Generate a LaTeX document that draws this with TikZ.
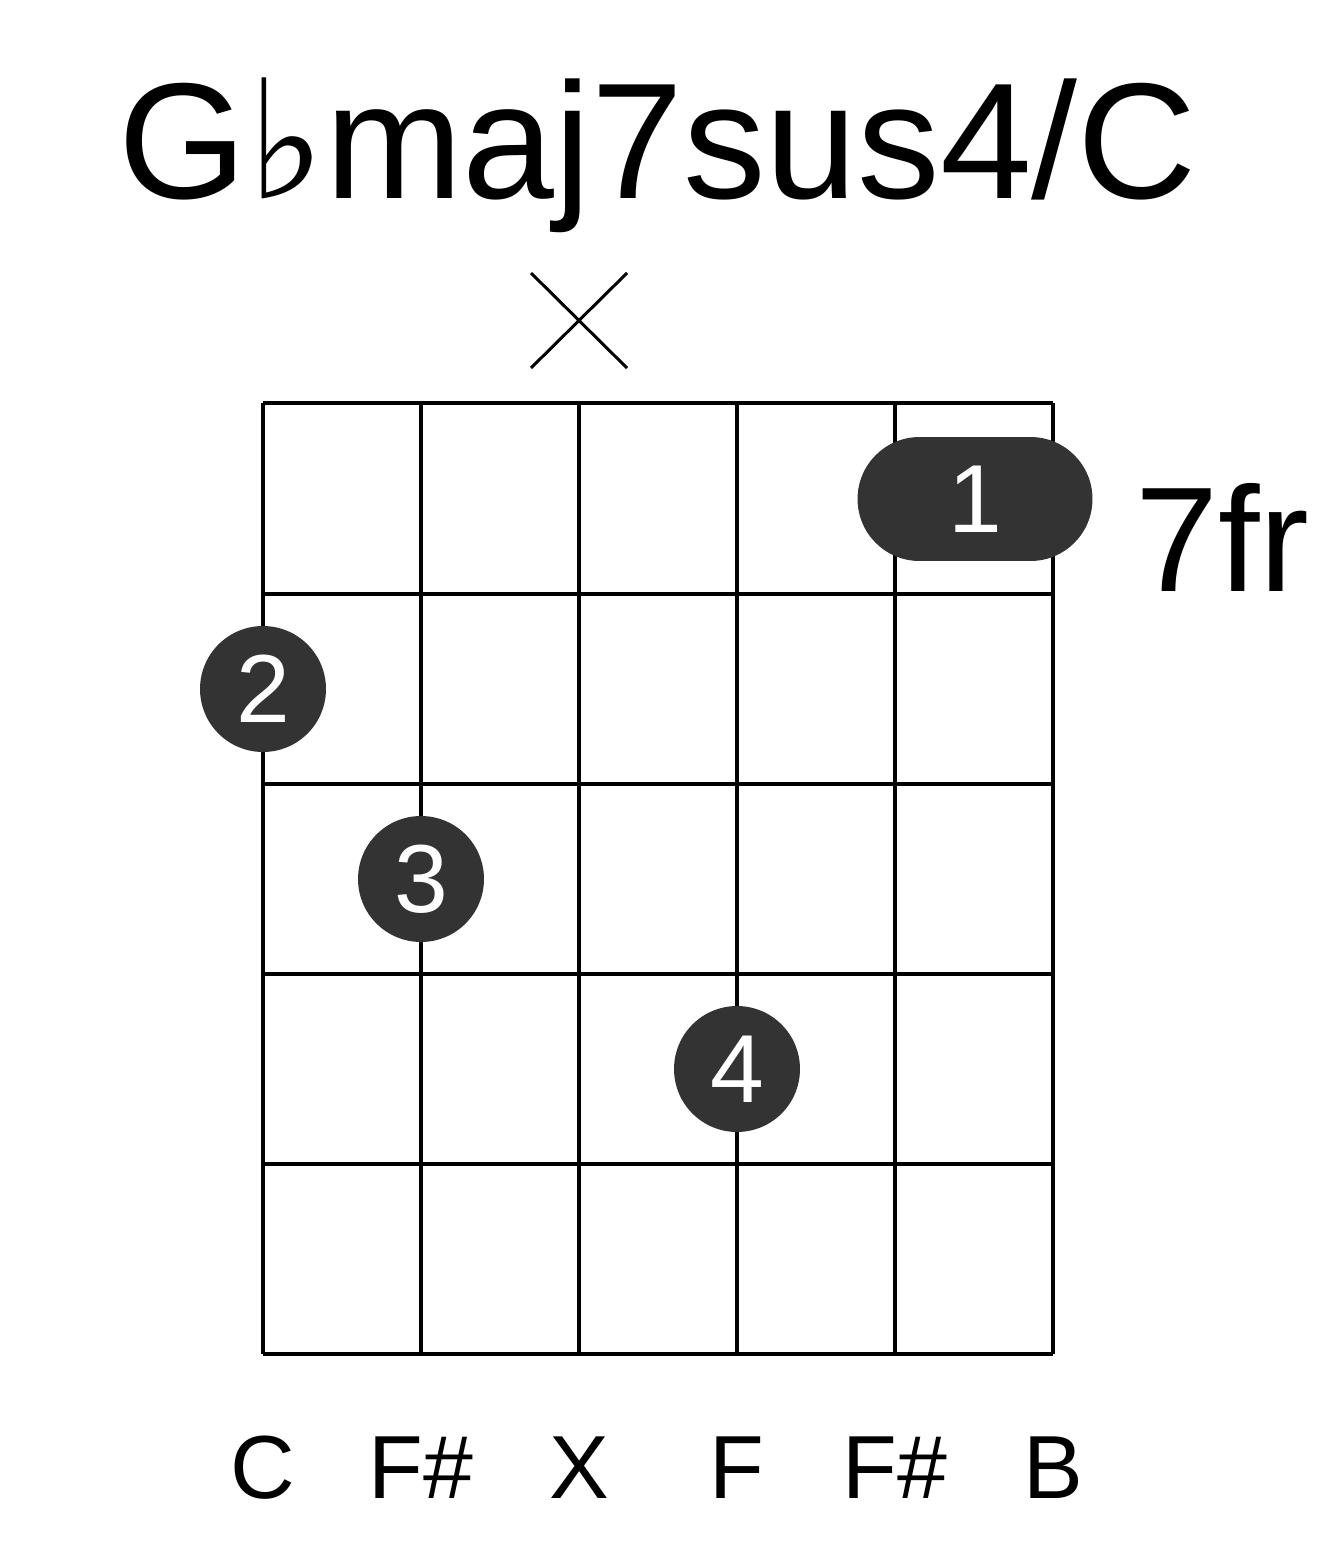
\documentclass[tikz,border=0pt]{standalone}
\usepackage{fontspec}
\setmainfont{Liberation Sans}
\newfontfamily\symfont{DejaVu Sans}
\usetikzlibrary{positioning}
\definecolor{dotgray}{HTML}{333333}
\tikzset{
x=0.02cm, y=-0.02cm,
gridline/.style={line width=2.3pt, black},
fingerdot/.style={circle, fill=dotgray, minimum size=2.52cm, inner sep=0pt, text=white, font=\fontsize{55}{55}\selectfont},
stringname/.style={font=\fontsize{51}{51}\selectfont},
}
\begin{document}
\begin{tikzpicture}
\useasboundingbox (0,0) rectangle (1317,1551);
% title
\node[font=\fontsize{94}{94}\selectfont] (title) at (658,155) {G{\symfont\char"266D}maj7sus4/C};
% muted string
\draw[line width=1.7pt] (531,273) -- (627,368) (627,273) -- (531,368);
% grid
\foreach \x in {263,421,579,737,895,1053}
  \draw[gridline] (\x,403) -- (\x,1354);
\foreach \y in {403,594,784,974,1164,1354}
  \draw[gridline] (263,\y) -- (1053,\y);
% barre and fingers
\node[fingerdot, rectangle, rounded corners=1.24cm, minimum width=4.7cm, minimum height=2.48cm] (barre) at (975,499) {1};
\node[fingerdot] (f2) at (263,689) {2};
\node[fingerdot] (f3) at (421,879) {3};
\node[fingerdot] (f4) at (737,1069) {4};
\node[anchor=west, font=\fontsize{85}{85}\selectfont, inner sep=0pt] (fret) at (1135,537) {7fr};
% string names
\foreach \x/\n in {263/C,421/F\#,579/X,737/F,895/F\#,1053/B}
  \node[stringname] at (\x,1468) {\n};
\end{tikzpicture}
\end{document}
